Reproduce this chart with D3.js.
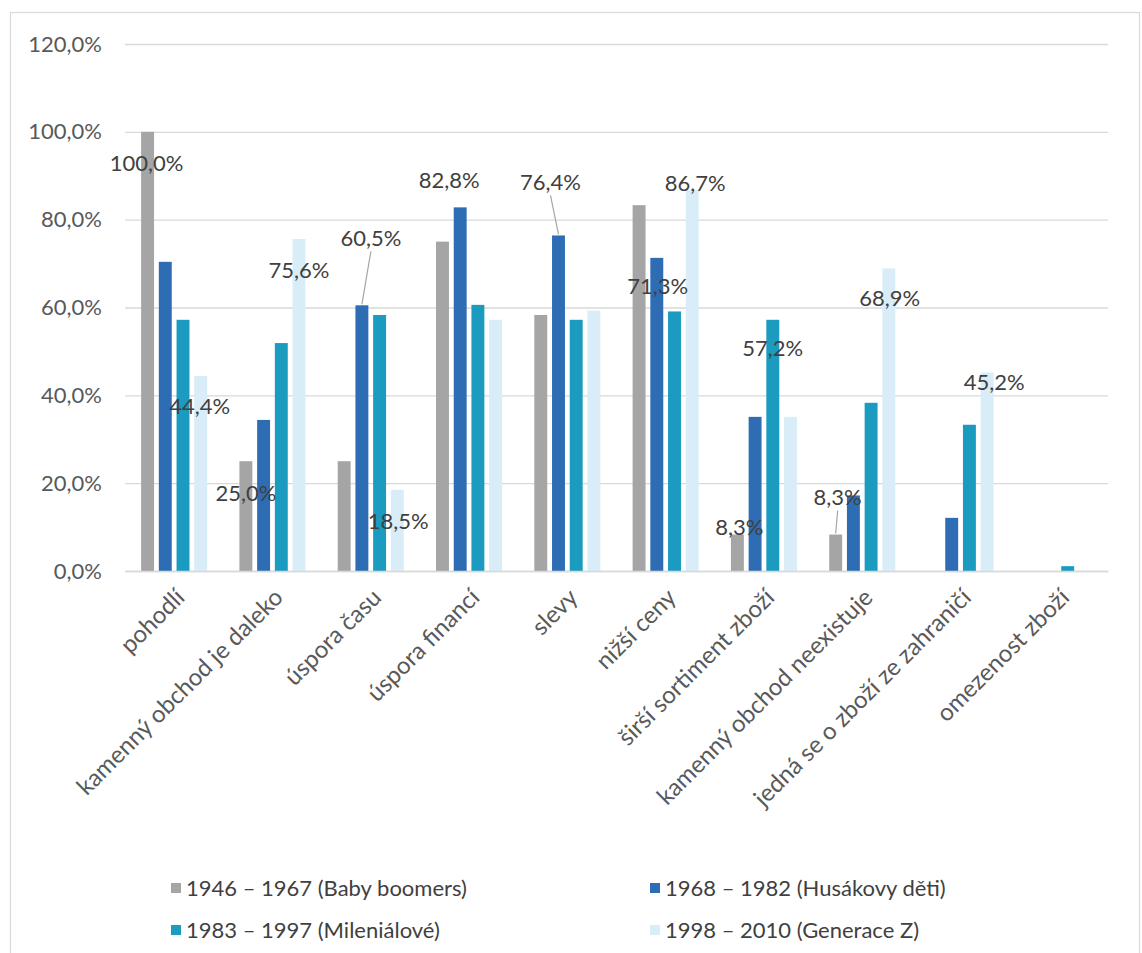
<!DOCTYPE html>
<html>
<head>
<meta charset="utf-8">
<script src="https://cdn.jsdelivr.net/npm/d3@7/dist/d3.min.js"></script>
<style>
  html, body { margin: 0; padding: 0; background: #ffffff; }
  svg { display: block; font-family: "Lato", "Open Sans", sans-serif; }
</style>
</head>
<body>
<svg id="chart" width="1142" height="953"></svg>
<script>
// ---------------- data ----------------
const categories = [
  "pohodlí",
  "kamenný obchod je daleko",
  "úspora času",
  "úspora financí",
  "slevy",
  "nižší ceny",
  "širší sortiment zboží",
  "kamenný obchod neexistuje",
  "jedná se o zboží ze zahraničí",
  "omezenost zboží"
];
const seriesNames = [
  "1946 – 1967 (Baby boomers)",
  "1968 – 1982 (Husákovy děti)",
  "1983 – 1997 (Mileniálové)",
  "1998 – 2010 (Generace Z)"
];
const babyBoomers  = [100.0, 25.0, 25.0, 75.0, 58.3, 83.3,  8.3,  8.3,  0.0, 0.0];
const husakovyDeti = [ 70.4, 34.4, 60.5, 82.8, 76.4, 71.3, 35.1, 17.2, 12.1, 0.0];
const milenialove  = [ 57.2, 51.9, 58.3, 60.6, 57.2, 59.1, 57.2, 38.3, 33.3, 1.1];
const generaceZ    = [ 44.4, 75.6, 18.5, 57.2, 59.3, 86.7, 35.1, 68.9, 45.2, 0.0];
const yTicks = [0, 20, 40, 60, 80, 100, 120];

// which bars carry a data label (series index, category index)
const labelledBars = [
  [0, 0], [3, 0], [0, 1], [3, 1], [1, 2], [3, 2], [1, 3], [1, 4],
  [3, 5], [1, 5], [2, 6], [0, 6], [0, 7], [3, 7], [3, 8]
];

// ---------------- layout / style ----------------
const seriesValues = [babyBoomers, husakovyDeti, milenialove, generaceZ];
const colors = ["#a5a5a5", "#2e6db4", "#1a9bbf", "#d8edf7"];
// label placement relative to bar top (pixels), like Excel manual label moves
const labelOffsets = [
  {dx: -1, dy: 31}, {dx: -1, dy: 30}, {dx: 0, dy: 32}, {dx: 0, dy: 31},
  {dx: 9, dy: -67, leader: true}, {dx: 1, dy: 32}, {dx: -11, dy: -27},
  {dx: -8, dy: -53, leader: true}, {dx: 3, dy: -7}, {dx: 1, dy: 28},
  {dx: 0, dy: 29}, {dx: 2, dy: -7}, {dx: 2, dy: -37, leader: true},
  {dx: 1, dy: 30}, {dx: 7, dy: 10}
];

const svg = d3.select("#chart");
const plot = {left: 125, right: 1108, top: 44, bottom: 571};
const fontSize = 22;
const catFontSize = 24;

// outer chart border
svg.append("rect")
  .attr("x", 10.5).attr("y", 12.5)
  .attr("width", 1129).attr("height", 960)
  .attr("fill", "#ffffff").attr("stroke", "#d9d9d9").attr("stroke-width", 1.2);

const x0 = d3.scaleBand().domain(categories).range([plot.left, plot.right]).padding(0);
const x1 = d3.scaleBand().domain(d3.range(4)).range([0, x0.bandwidth()])
  .paddingInner(0.27).paddingOuter(0.91);
const y = d3.scaleLinear().domain([0, 120]).range([plot.bottom, plot.top]);

const fmt = v => d3.format(".1f")(v).replace(".", ",") + "%";

// gridlines + y axis labels
const yAxis = d3.axisLeft(y).tickValues(yTicks).tickFormat(fmt)
  .tickSize(-(plot.right - plot.left)).tickPadding(23);
const gy = svg.append("g").attr("transform", `translate(${plot.left},0)`).call(yAxis);
gy.select(".domain").remove();
gy.selectAll(".tick line").attr("stroke", "#d9d9d9").attr("stroke-width", 1.3);
gy.selectAll(".tick text")
  .attr("fill", "#595959").attr("font-size", fontSize)
  .attr("font-family", "Lato, 'Open Sans', sans-serif");

// bars
const groups = svg.append("g").selectAll("g")
  .data(categories).join("g")
  .attr("transform", d => `translate(${x0(d)},0)`);
groups.selectAll("rect")
  .data((d, ci) => seriesValues.map((vals, si) => ({si, ci, v: vals[ci]})))
  .join("rect")
  .attr("x", d => x1(d.si))
  .attr("width", x1.bandwidth())
  .attr("y", d => y(d.v))
  .attr("height", d => y(0) - y(d.v))
  .attr("fill", d => colors[d.si]);

// x axis line
const xAxis = d3.axisBottom(x0).tickSize(0).tickPadding(0).tickFormat("");
const gx = svg.append("g").attr("transform", `translate(0,${plot.bottom})`).call(xAxis);
gx.select(".domain").attr("stroke", "#d9d9d9").attr("stroke-width", 1.3);

// category labels, rotated
svg.append("g").selectAll("text")
  .data(categories).join("text")
  .attr("transform", d => `translate(${x0(d) + x0.bandwidth() / 2 + 6},${plot.bottom + 22}) rotate(-45)`)
  .attr("text-anchor", "end")
  .attr("dy", "0.35em")
  .attr("fill", "#595959")
  .attr("font-size", catFontSize)
  .text(d => d);

// data labels and leader lines
const labelG = svg.append("g");
labelledBars.forEach(([si, ci], i) => {
  const off = labelOffsets[i];
  const v = seriesValues[si][ci];
  const bx = x0(categories[ci]) + x1(si) + x1.bandwidth() / 2;
  const by = y(v);
  const lx = bx + off.dx, ly = by + off.dy;
  if (off.leader) {
    labelG.append("line")
      .attr("x1", lx).attr("y1", ly + 13)
      .attr("x2", bx).attr("y2", by - 1)
      .attr("stroke", "#a6a6a6").attr("stroke-width", 1.2);
  }
  labelG.append("text")
    .attr("x", lx).attr("y", ly)
    .attr("dy", "0.35em")
    .attr("text-anchor", "middle")
    .attr("fill", "#404040")
    .attr("font-size", fontSize)
    .text(fmt(v));
});

// legend
const legendPos = [[171, 888], [650, 888], [171, 930], [650, 930]];
const lg = svg.append("g").selectAll("g")
  .data(seriesNames).join("g")
  .attr("transform", (d, i) => `translate(${legendPos[i][0]},${legendPos[i][1]})`);
lg.append("rect").attr("x", 0).attr("y", -5).attr("width", 10).attr("height", 10)
  .attr("fill", (d, i) => colors[i]);
lg.append("text").attr("x", 15).attr("dy", "0.35em")
  .attr("fill", "#404040").attr("font-size", fontSize)
  .text(d => d);
</script>
</body>
</html>
